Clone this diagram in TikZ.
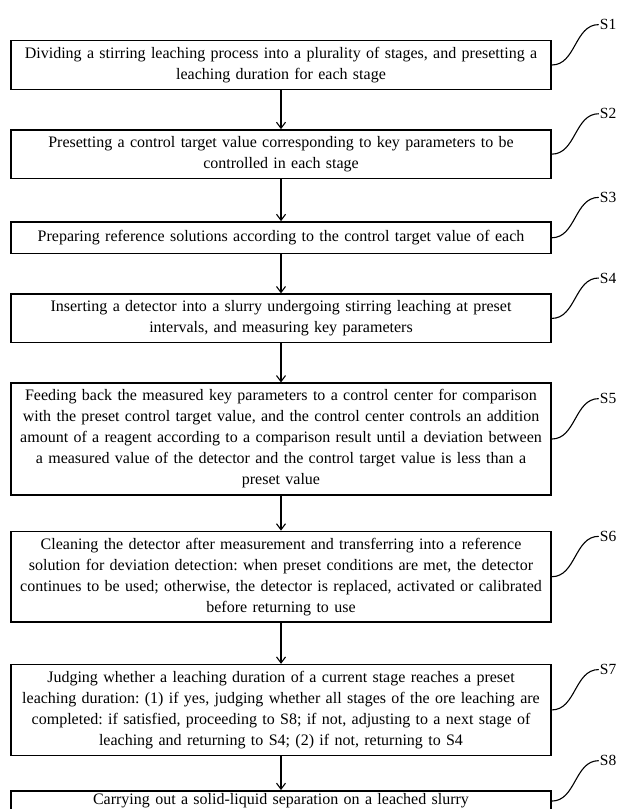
\documentclass[tikz,border=0pt]{standalone}
\usepackage{fontspec}
\setmainfont{Liberation Serif}
\frenchspacing
\usetikzlibrary{arrows.meta,positioning}

\tikzset{
  stepbox/.style={draw,line width=1.5pt,text width=533pt,align=center,
    inner xsep=3.5pt,inner ysep=6.5pt,font=\fontsize{16}{21}\selectfont},
  steplabel/.style={inner sep=1pt,anchor=west,font=\fontsize{15.5}{17}\selectfont},
  stepline/.style={line width=1.1pt,out=0,in=180}
}

\begin{document}
\begin{tikzpicture}[x=1pt,y=1pt,>={Straight Barb[length=6pt,width=9pt]},node distance=39pt]
\clip (0,0) rectangle (623,-809);
\node[stepbox] (s1) at (281,-65) {Dividing a stirring leaching process into a plurality of stages, and presetting a\\ leaching duration for each stage};
\node[stepbox,below=of s1] (s2) {Presetting a control target value corresponding to key parameters to be\\ controlled in each stage};
\node[stepbox,below=42pt of s2,inner ysep=8.5pt] (s3) {Preparing reference solutions according to the control target value of each};
\node[stepbox,below=of s3] (s4) {Inserting a detector into a slurry undergoing stirring leaching at preset\\ intervals, and measuring key parameters};
\node[stepbox,below=of s4] (s5) {Feeding back the measured key parameters to a control center for comparison\\ with the preset control target value, and the control center controls an addition\\ amount of a reagent according to a comparison result until a deviation between\\ a measured value of the detector and the control target value is less than a\\ preset value};
\node[stepbox,below=35pt of s5] (s6) {Cleaning the detector after measurement and transferring into a reference\\ solution for deviation detection: when preset conditions are met, the detector\\ continues to be used; otherwise, the detector is replaced, activated or calibrated\\ before returning to use};
\node[stepbox,below=41pt of s6] (s7) {Judging whether a leaching duration of a current stage reaches a preset\\ leaching duration: (1) if yes, judging whether all stages of the ore leaching are\\ completed: if satisfied, proceeding to S8; if not, adjusting to a next stage of\\ leaching and returning to S4; (2) if not, returning to S4};
\node[stepbox,below=34pt of s7,inner ysep=3pt] (s8) {Carrying out a solid-liquid separation on a leached slurry};

% flow arrows
\foreach \a/\b in {s1/s2,s2/s3,s3/s4,s4/s5,s5/s6,s6/s7,s7/s8}
  \draw[->,line width=1.1pt] (\a) -- (\b);

% step numbers on the right
\foreach \i in {1,...,8}{
  \node[steplabel,above right=34pt and 47pt of s\i.east] (l\i) {S\i};
  \draw[stepline] (s\i.east) to (l\i.west);
}
\end{tikzpicture}
\end{document}
